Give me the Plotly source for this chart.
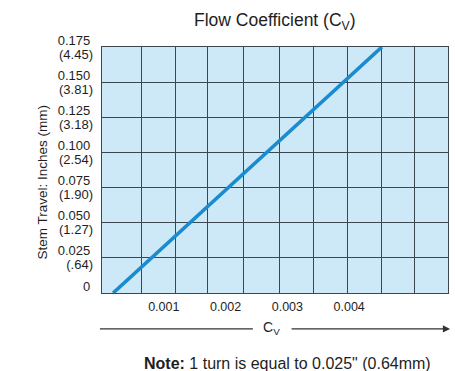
import plotly.graph_objects as go

# Flow coefficient vs. stem travel
cv_values = [0.00018, 0.00453]
travel_in = [0.0, 0.175]

# Axis ticks: inches on one label line, millimetres on the line below
y_tick_in = [0, 0.025, 0.050, 0.075, 0.100, 0.125, 0.150, 0.175]
y_tick_in_text = ["0", "0.025", "0.050", "0.075", "0.100", "0.125", "0.150", "0.175"]
y_tick_mm_text = ["", "(.64)", "(1.27)", "(1.90)", "(2.54)", "(3.18)", "(3.81)", "(4.45)"]
x_tick_cv = [0.001, 0.002, 0.003, 0.004]
x_tick_text = ["0.001", "0.002", "0.003", "0.004"]

# Vertical grid columns of the chart paper
x_grid_cv = [0.000647, 0.001197, 0.001715, 0.002282, 0.00288,
             0.00343, 0.00398, 0.00453, 0.00505]

X_RANGE = [0, 0.0056]
Y_RANGE = [0, 0.175]
GRID = "#3b464e"
TEXT = "#1e1e1e"
FONT = "Liberation Sans, Arial, sans-serif"

fig = go.Figure()
fig.add_trace(go.Scatter(
    x=cv_values, y=travel_in, mode="lines",
    line=dict(color="#1b8bd0", width=3.6),
    hoverinfo="skip", showlegend=False,
))
# invisible trace so the grid / mm-label axes are drawn
fig.add_trace(go.Scatter(
    x=X_RANGE, y=Y_RANGE, xaxis="x2", yaxis="y2", mode="lines",
    line=dict(width=0), hoverinfo="skip", showlegend=False,
))

fig.update_layout(
    width=455, height=371,
    margin=dict(l=102, r=7, t=47, b=78),
    paper_bgcolor="white",
    plot_bgcolor="#cde8f6",
    font=dict(family=FONT, color=TEXT, size=12),
    title=dict(
        text="Flow Coefficient (C<sub>V</sub>)",
        x=0.604, xanchor="center", y=0.946, yanchor="middle",
        font=dict(size=17.5, color=TEXT, family=FONT),
    ),
    xaxis=dict(
        range=X_RANGE, tickvals=x_tick_cv, ticktext=x_tick_text,
        showgrid=False, zeroline=False, ticks="", ticklabelstandoff=2,
        showline=True, linecolor=GRID, linewidth=1.3, mirror=True,
        tickfont=dict(size=12.5, color=TEXT),
    ),
    xaxis2=dict(
        range=X_RANGE, overlaying="x", tickvals=x_grid_cv,
        showticklabels=False, showgrid=True, gridcolor=GRID, gridwidth=1.3,
        zeroline=False, ticks="", showline=False,
    ),
    yaxis=dict(
        range=Y_RANGE, tickvals=y_tick_in, ticktext=y_tick_in_text,
        showgrid=True, gridcolor=GRID, gridwidth=1.3, zeroline=False,
        ticks="", ticklabelstandoff=8, ticklabelshift=-7,
        showline=True, linecolor=GRID, linewidth=1.3, mirror=True,
        tickfont=dict(size=13, color=TEXT),
    ),
    yaxis2=dict(
        range=Y_RANGE, overlaying="y", side="left",
        tickvals=y_tick_in, ticktext=y_tick_mm_text,
        showgrid=False, zeroline=False, showline=False,
        ticks="", ticklabelstandoff=8, ticklabelshift=7,
        tickfont=dict(size=13, color=TEXT),
    ),
    annotations=[
        dict(text="Stem Travel: Inches (mm)", xref="paper", yref="paper",
             x=-0.2, y=0.45, textangle=-90, showarrow=False,
             font=dict(size=13.5, color=TEXT)),
        dict(text="C<sub>V</sub>", xref="paper", yref="paper",
             x=0.489, y=-0.146, yshift=-10, showarrow=False,
             font=dict(size=14, color=TEXT)),
        dict(text="", xref="paper", yref="paper", x=1.006, y=-0.146,
             axref="pixel", ayref="pixel", ax=-160, ay=0,
             showarrow=True, arrowhead=2, arrowsize=1.2, arrowwidth=1.2,
             arrowcolor="#333333"),
        dict(text="<b>Note:</b> 1 turn is equal to 0.025\" (0.64mm)",
             xref="paper", yref="paper", x=0.535, y=-0.33, showarrow=False,
             font=dict(size=16, color=TEXT)),
    ],
    shapes=[
        dict(type="line", xref="paper", yref="paper",
             x0=-0.006, x1=0.436, y0=-0.146, y1=-0.146,
             line=dict(color="#333333", width=1.2)),
    ],
)

fig.write_html("out.html")
